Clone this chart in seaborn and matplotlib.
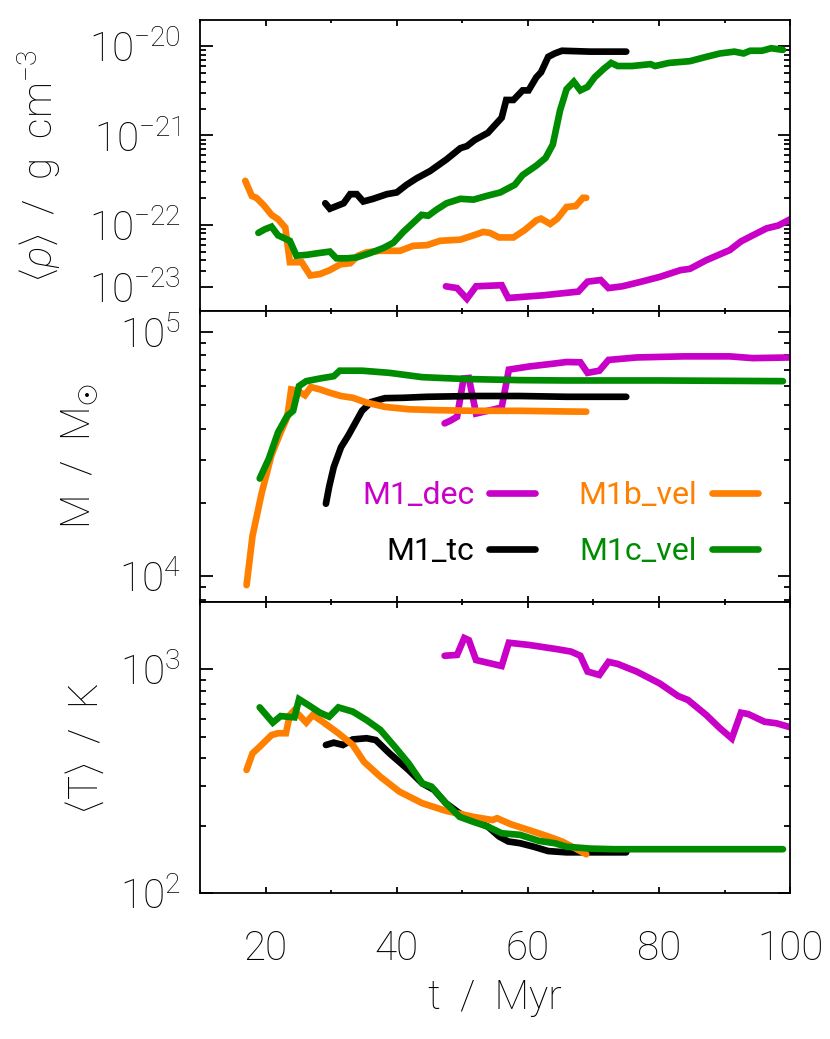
import numpy as np
import matplotlib
matplotlib.use("Agg")
import matplotlib.pyplot as plt
import matplotlib.ticker as mticker
import seaborn as sns

# Time axis in Myr, one list per run and panel

# Mean density <rho> in g cm^-3
t_rho_dec = [47.5, 49.2, 50.7, 52.1, 56.0, 57.0, 62.4, 67.7, 69.1, 71.1, 72.3, 74.4, 77.3, 80.1,
             83.3, 84.7, 87.2, 90.8, 92.5, 94.3, 96.4, 98.2, 100.0]
rho_dec = [2.04e-23, 1.95e-23, 1.48e-23, 2.04e-23, 2.1e-23, 1.51e-23, 1.62e-23, 1.78e-23, 2.3e-23,
           2.4e-23, 1.95e-23, 2.04e-23, 2.3e-23, 2.6e-23, 3.1e-23, 3.2e-23, 4.0e-23, 5.2e-23,
           6.5e-23, 7.6e-23, 9.1e-23, 9.8e-23, 1.15e-22]

t_rho_tc = [29.1, 29.8, 31.9, 32.9, 33.9, 34.9, 36.4, 38.5, 40.0, 41.5, 43.0, 45.1, 47.6, 49.7,
            50.7, 51.9, 53.9, 56.0, 56.7, 57.8, 59.2, 60.1, 61.3, 62.0, 63.1, 64.1, 65.2, 69.5, 75.0]
rho_tc = [1.74e-22, 1.51e-22, 1.74e-22, 2.2e-22, 2.2e-22, 1.82e-22, 1.95e-22, 2.2e-22, 2.3e-22,
          2.8e-22, 3.3e-22, 4.0e-22, 5.4e-22, 7.2e-22, 7.6e-22, 8.9e-22, 1.07e-21, 1.58e-21,
          2.5e-21, 2.5e-21, 3.2e-21, 3.2e-21, 4.5e-21, 5.1e-21, 7.6e-21, 8.3e-21, 8.9e-21,
          8.7e-21, 8.7e-21]

t_rho_bvel = [16.9, 17.9, 18.6, 19.7, 20.9, 21.9, 23.0, 23.7, 25.5, 26.8, 28.3, 29.8, 31.4, 32.9,
              34.1, 35.4, 37.5, 40.5, 42.5, 44.6, 46.6, 49.7, 51.7, 53.2, 54.2, 55.6, 57.8, 59.5,
              61.3, 62.0, 63.4, 64.5, 65.9, 67.3, 68.4, 68.9]
rho_bvel = [3.1e-22, 2.1e-22, 2.0e-22, 1.66e-22, 1.29e-22, 1.15e-22, 9.3e-23, 3.8e-23, 3.8e-23,
            2.7e-23, 2.8e-23, 3.1e-23, 3.6e-23, 3.7e-23, 4.5e-23, 4.9e-23, 5.1e-23, 5.1e-23,
            5.8e-23, 5.9e-23, 6.6e-23, 6.8e-23, 7.6e-23, 8.3e-23, 8.1e-23, 7.2e-23, 7.2e-23,
            8.7e-23, 1.12e-22, 1.17e-22, 1.02e-22, 1.17e-22, 1.58e-22, 1.62e-22, 2.0e-22, 2.0e-22]

t_rho_cvel = [18.9, 19.9, 20.9, 21.9, 23.7, 24.7, 26.3, 28.0, 29.8, 30.8, 32.4, 33.9, 35.9, 38.0,
              39.5, 41.0, 42.5, 43.8, 44.8, 46.1, 47.6, 49.7, 51.7, 53.7, 55.8, 58.0, 59.2, 61.3,
              62.7, 63.8, 64.9, 65.9, 67.0, 68.0, 69.1, 70.2, 71.6, 72.7, 73.7, 75.9, 78.7, 79.4,
              81.5, 84.7, 87.2, 89.3, 91.5, 92.9, 93.9, 95.7, 97.1, 98.9]
rho_cvel = [8.1e-23, 8.9e-23, 9.5e-23, 7.6e-23, 6.6e-23, 4.5e-23, 4.6e-23, 4.8e-23, 5.0e-23,
            4.2e-23, 4.2e-23, 4.3e-23, 4.8e-23, 5.5e-23, 6.3e-23, 8.3e-23, 1.05e-22, 1.29e-22,
            1.26e-22, 1.48e-22, 1.74e-22, 1.95e-22, 1.91e-22, 2.1e-22, 2.3e-22, 2.8e-22, 3.6e-22,
            4.6e-22, 5.6e-22, 7.9e-22, 1.9e-21, 3.3e-21, 4.0e-21, 3.2e-21, 3.5e-21, 4.5e-21,
            5.6e-21, 6.5e-21, 6.0e-21, 6.0e-21, 6.3e-21, 6.0e-21, 6.5e-21, 6.8e-21, 7.6e-21,
            8.3e-21, 8.7e-21, 8.3e-21, 8.9e-21, 8.9e-21, 9.5e-21, 9.1e-21]

# Mass in solar masses
t_m_dec = [47.3, 48.2, 49.2, 50.2, 51.0, 52.1, 53.9, 56.0, 57.1, 60.2, 63.8, 65.9, 68.0, 69.1,
           70.9, 72.3, 76.6, 83.7, 90.8, 94.3, 100.0]
m_dec = [42200, 43300, 44900, 64400, 64700, 46300, 47500, 49000, 70000, 72100, 74000, 75200,
         75000, 67900, 69300, 76700, 78500, 79300, 79300, 78000, 78500]

t_m_tc = [29.2, 29.7, 30.4, 31.5, 32.6, 33.6, 34.7, 36.1, 38.2, 41.1, 44.6, 51.7, 58.8, 65.9, 75.0]
m_tc = [19800, 23300, 28000, 33700, 37600, 42000, 47500, 51600, 53500, 53700, 54200, 54600,
        54600, 54200, 54200]

t_m_bvel = [17.1, 18.0, 19.4, 20.9, 22.3, 23.3, 23.9, 24.8, 26.0, 26.9, 28.3, 29.7, 31.5, 33.3,
            35.4, 38.2, 41.8, 46.0, 51.7, 58.8, 65.9, 68.9]
m_bvel = [9200, 14600, 21900, 31300, 38800, 44700, 58100, 57500, 55000, 59400, 58100, 56400,
          54600, 53700, 51300, 49300, 48200, 47800, 47500, 47500, 47200, 47100]

t_m_cvel = [19.1, 20.5, 21.9, 23.3, 24.2, 25.1, 26.2, 28.3, 30.4, 31.3, 34.7, 38.9, 43.9, 50.3,
            58.8, 65.9, 80.1, 98.9]
m_cvel = [25100, 30300, 38800, 45300, 47500, 60000, 62800, 64400, 65800, 69300, 69300, 67900,
          65200, 64100, 63400, 63200, 63200, 62800]

# Mean temperature in K
t_T_dec = [47.3, 49.2, 50.3, 51.0, 52.1, 56.0, 57.1, 60.2, 64.5, 66.6, 68.0, 69.1, 70.9, 72.3,
           73.7, 76.6, 80.1, 82.9, 84.4, 87.2, 89.3, 91.1, 92.5, 93.6, 96.1, 97.9, 100.0]
T_dec = [1150, 1160, 1380, 1350, 1100, 1035, 1315, 1285, 1230, 1200, 1150, 977, 944, 1080, 1057,
         977, 865, 760, 730, 625, 545, 491, 640, 631, 583, 574, 551]

t_T_tc = [29.2, 30.4, 31.8, 33.3, 35.4, 36.8, 38.9, 41.8, 43.9, 45.7, 47.5, 49.6, 51.7, 53.9,
          55.6, 57.0, 58.8, 60.9, 63.1, 65.9, 75.0]
T_tc = [459, 470, 459, 486, 492, 483, 421, 355, 309, 289, 252, 227, 212, 198, 179, 170, 167, 161,
        154, 152, 152]

t_T_bvel = [17.1, 18.0, 19.1, 20.9, 21.9, 23.1, 23.7, 24.3, 25.1, 26.2, 27.2, 28.7, 31.1, 33.3,
            35.0, 37.5, 40.4, 43.9, 47.5, 51.7, 54.6, 55.3, 57.4, 60.2, 63.1, 65.2, 67.3, 68.9]
T_bvel = [355, 421, 451, 508, 518, 518, 625, 653, 625, 578, 625, 583, 518, 459, 386, 331, 284,
          252, 233, 219, 212, 216, 203, 191, 179, 170, 158, 149]

t_T_cvel = [19.1, 20.1, 21.1, 22.3, 24.4, 25.1, 26.5, 28.3, 29.7, 31.1, 33.3, 35.4, 37.5, 39.7,
            41.8, 43.9, 45.3, 47.5, 49.6, 51.7, 53.9, 56.0, 58.8, 61.7, 64.1, 65.9, 69.5, 73.0,
            80.1, 98.9]
T_cvel = [676, 625, 578, 618, 610, 735, 693, 640, 614, 676, 647, 593, 536, 451, 380, 309, 299,
          252, 219, 208, 198, 185, 182, 171, 167, 161, 158, 157, 157, 157]

run_names = ["M1_dec", "M1_tc", "M1b_vel", "M1c_vel"]
run_colors = ["#c800c8", "black", "#ff8000", "#008c00"]

rho_ticks = [1e-20, 1e-21, 1e-22, 2e-23]
rho_ticklabels = ["$10^{-20}$", "$10^{-21}$", "$10^{-22}$", "$10^{-23}$"]
m_ticks = [1e4, 1e5]
m_ticklabels = ["$10^4$", "$10^5$"]
T_ticks = [1e2, 1e3]
T_ticklabels = ["$10^2$", "$10^3$"]
t_ticks = [20, 40, 60, 80, 100]

sns.set_style("ticks")
plt.rcParams["font.family"] = ["Roboto", "DejaVu Sans"]
plt.rcParams["font.weight"] = "light"
plt.rcParams["mathtext.fontset"] = "custom"
plt.rcParams["mathtext.rm"] = "Roboto:light"
plt.rcParams["mathtext.it"] = "Roboto:light:italic"
plt.rcParams["mathtext.sf"] = "Roboto:light"
plt.rcParams["axes.linewidth"] = 1.3
plt.rcParams.update({"text.color": "black", "axes.labelcolor": "black", "axes.edgecolor": "black",
                     "xtick.color": "black", "ytick.color": "black"})

fig, axes = plt.subplots(3, 1, sharex=True, figsize=(8.3, 10.39), dpi=100)
fig.subplots_adjust(left=0.241, right=0.952, bottom=0.1405, top=0.9808, hspace=0)

panels = [
    [(t_rho_dec, rho_dec), (t_rho_tc, rho_tc), (t_rho_bvel, rho_bvel), (t_rho_cvel, rho_cvel)],
    [(t_m_dec, m_dec), (t_m_tc, m_tc), (t_m_bvel, m_bvel), (t_m_cvel, m_cvel)],
    [(t_T_dec, T_dec), (t_T_tc, T_tc), (t_T_bvel, T_bvel), (t_T_cvel, T_cvel)],
]
ylims = [(1.08e-23, 1.97e-20), (7.85e3, 1.216e5), (100, 2000)]
yticks = [(rho_ticks, rho_ticklabels), (m_ticks, m_ticklabels), (T_ticks, T_ticklabels)]
ylabels = [r"$\langle\rho\rangle$  /  g  cm$^{-3}$", r"M  /  M$_{\odot}$",
           r"$\langle$T$\rangle$  /  K"]
ylabel_x = [-0.232, -0.17, -0.16]

for ax, series, ylim, (ticks, labels), ylab, lx in zip(axes, panels, ylims, yticks, ylabels, ylabel_x):
    for (t, v), name, col in zip(series, run_names, run_colors):
        sns.lineplot(x=t, y=v, ax=ax, color=col, lw=4.8, label=name, estimator=None,
                     solid_joinstyle="miter")
    ax.set_yscale("log")
    ax.set_ylim(*ylim)
    ax.set_yticks(ticks)
    ax.set_yticklabels(labels)
    ax.yaxis.set_minor_locator(mticker.LogLocator(base=10, subs=np.arange(2, 10), numticks=20))
    ax.yaxis.set_minor_formatter(mticker.NullFormatter())
    ax.tick_params(axis="y", which="major", direction="in", length=9, width=1.3,
                   left=True, right=True, labelsize=29, pad=14)
    ax.tick_params(axis="y", which="minor", direction="in", length=4, width=1.3,
                   left=True, right=True)
    ax.tick_params(axis="x", which="major", direction="in", length=4, width=1.3,
                   top=True, bottom=True, labelsize=29, pad=26)
    ax.tick_params(axis="x", which="minor", direction="in", length=2, width=1.3,
                   top=True, bottom=True)
    ax.set_ylabel(ylab, fontsize=29, fontweight="light")
    ax.yaxis.set_label_coords(lx, 0.5)
    if ax.get_legend() is not None:
        ax.get_legend().remove()

axes[-1].set_xlim(10, 100)
axes[-1].set_xticks(t_ticks)
axes[-1].xaxis.set_minor_locator(mticker.MultipleLocator(10))
axes[-1].set_xlabel("t  /  Myr", fontsize=29, fontweight="light", labelpad=8)

# legend in the mass panel: text first, line segment after, two columns
handles, labels = axes[1].get_legend_handles_labels()
order = [labels.index(n) for n in ["M1_dec", "M1_tc", "M1b_vel", "M1c_vel"]]
axes[1].legend([handles[i] for i in order], [labels[i] for i in order], ncol=2,
               loc="upper left", bbox_to_anchor=(0.275, 0.415), frameon=False,
               markerfirst=False, labelcolor="linecolor", handlelength=1.45,
               prop={"size": 23, "weight": "normal"},
               handletextpad=0.45, columnspacing=1.35,
               labelspacing=0.85, borderpad=0, borderaxespad=0)

fig.savefig("out.png", dpi=100)
